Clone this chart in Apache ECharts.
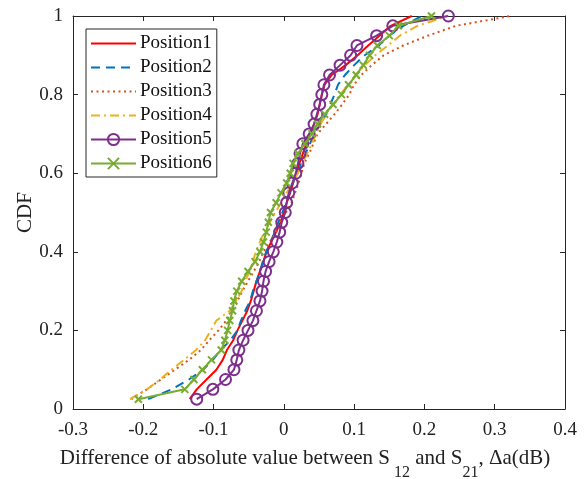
<!DOCTYPE html>
<html>
<head>
<meta charset="utf-8">
<script src="https://cdn.jsdelivr.net/npm/echarts@6/dist/echarts.min.js"></script>
<style>
html,body{margin:0;padding:0;background:#fff;}
#chart{width:587px;height:479px;}
</style>
</head>
<body>
<div id="chart"></div>
<script>
// CDF levels shared by all series
const cdfLevels = [0.025,0.05,0.075,0.1,0.125,0.15,0.175,0.2,0.225,0.25,0.275,0.3,0.325,0.35,0.375,0.4,0.425,0.45,0.475,0.5,0.525,0.55,0.575,0.6,0.625,0.65,0.675,0.7,0.725,0.75,0.775,0.8,0.825,0.85,0.875,0.9,0.925,0.95,0.975,1.0];

const seriesNames = ['Position1','Position2','Position3','Position4','Position5','Position6'];

const position1 = [-0.134,-0.124,-0.110,-0.096,-0.087,-0.081,-0.072,-0.066,-0.059,-0.052,-0.047,-0.043,-0.039,-0.034,-0.029,-0.025,-0.018,-0.011,-0.005,0.000,0.004,0.009,0.013,0.018,0.022,0.027,0.032,0.037,0.043,0.048,0.051,0.054,0.058,0.068,0.088,0.105,0.120,0.136,0.152,0.182];
const position2 = [-0.193,-0.160,-0.135,-0.115,-0.101,-0.090,-0.076,-0.066,-0.061,-0.055,-0.048,-0.044,-0.039,-0.034,-0.030,-0.025,-0.019,-0.013,-0.008,-0.002,0.003,0.008,0.013,0.019,0.025,0.031,0.037,0.044,0.052,0.060,0.066,0.072,0.077,0.087,0.100,0.115,0.135,0.150,0.170,0.196];
const position3 = [-0.217,-0.195,-0.175,-0.155,-0.135,-0.118,-0.106,-0.093,-0.082,-0.073,-0.066,-0.059,-0.051,-0.043,-0.035,-0.029,-0.020,-0.011,-0.005,0.003,0.011,0.016,0.021,0.025,0.029,0.036,0.042,0.048,0.060,0.072,0.083,0.093,0.100,0.110,0.125,0.142,0.170,0.205,0.245,0.322];
const position4 = [-0.219,-0.195,-0.176,-0.160,-0.142,-0.125,-0.112,-0.104,-0.096,-0.077,-0.068,-0.060,-0.055,-0.049,-0.044,-0.040,-0.034,-0.028,-0.020,-0.012,-0.004,0.004,0.012,0.020,0.027,0.033,0.040,0.046,0.052,0.061,0.070,0.080,0.092,0.102,0.115,0.130,0.148,0.165,0.190,0.233];
const position5 = [-0.124,-0.101,-0.083,-0.071,-0.067,-0.064,-0.058,-0.051,-0.044,-0.039,-0.034,-0.031,-0.029,-0.026,-0.021,-0.015,-0.010,-0.006,-0.003,0.002,0.004,0.007,0.012,0.017,0.020,0.023,0.027,0.036,0.043,0.047,0.051,0.054,0.057,0.065,0.080,0.095,0.104,0.132,0.155,0.234];
const position6 = [-0.207,-0.141,-0.128,-0.116,-0.103,-0.089,-0.084,-0.080,-0.077,-0.073,-0.071,-0.067,-0.060,-0.051,-0.041,-0.034,-0.029,-0.025,-0.022,-0.019,-0.011,-0.004,0.004,0.009,0.013,0.020,0.030,0.040,0.048,0.058,0.070,0.082,0.092,0.103,0.113,0.122,0.133,0.150,0.163,0.210];

const xTicks = [-0.3,-0.2,-0.1,0,0.1,0.2,0.3,0.4];
const yTicks = [0,0.2,0.4,0.6,0.8,1];

const allX = [position1,position2,position3,position4,position5,position6];
function pairs(xs){ return xs.map((x,i)=>[x,cdfLevels[i]]); }

const colors = ['#FF0000','#0072BD','#D95319','#EDB120','#7E2F8E','#77AC30'];
const dashes = ['solid',[9,6],[2,3.5],[9,4,2,4],'solid','solid'];

const font = 'Liberation Serif, Times New Roman, serif';
const axisCol = '#262626';
const fs = 19;

const series = allX.map((xs,k)=>{
  const s = {
    name: seriesNames[k],
    type: 'line',
    data: pairs(xs),
    xAxisIndex: 0, yAxisIndex: 0,
    color: colors[k],
    lineStyle: {color: colors[k], width: 2, type: dashes[k]},
    showSymbol: false,
    symbol: 'none',
    animation: false,
    z: 2 + k
  };
  if (k === 4) {
    s.showSymbol = true;
    s.symbol = 'circle';
    s.symbolSize = 11;
    s.itemStyle = {color: 'rgba(0,0,0,0)', borderColor: colors[k], borderWidth: 2};
  }
  if (k === 5) {
    s.showSymbol = true;
    s.symbol = 'path://M0,0L10,10M10,0L0,10';
    s.symbolSize = 7;
    s.itemStyle = {color: 'rgba(0,0,0,0)', borderColor: colors[k], borderWidth: 2};
  }
  return s;
});

const legendData = seriesNames.map((n,k)=> k < 4
  ? {name: n, itemStyle: {color: 'rgba(0,0,0,0)', borderWidth: 0, opacity: 0}}
  : {name: n});

const chart = echarts.init(document.getElementById('chart'), null, {renderer:'canvas'});
chart.setOption({
  animation: false,
  backgroundColor: '#fff',
  grid: {left: 73, right: 22, top: 16, bottom: 70, containLabel: false, outerBoundsMode: 'none'},
  xAxis: [{
    type: 'value', min: -0.3, max: 0.4, interval: 0.1, position: 'bottom',
    axisLine: {show: true, onZero: false, lineStyle: {color: axisCol, width: 1}},
    axisTick: {show: true, inside: true, length: 5, lineStyle: {color: axisCol}},
    splitLine: {show: false},
    axisLabel: {color: '#222', fontFamily: font, fontSize: fs, margin: 12,
      formatter: v => { const t = xTicks.find(q => Math.abs(q - v) < 1e-9); return t === undefined ? '' : String(t); }},
    name: '{n|Difference of absolute value between S}{s| 12}{n| and S}{s|21}{n|, Δa(dB)}',
    nameLocation: 'middle', nameGap: 39, nameMoveOverlap: false,
    nameTextStyle: {
      color: '#222', fontFamily: font, fontSize: 21,
      padding: [0, 28, 0, 0],
      rich: {
        n: {fontFamily: font, fontSize: 21, color: '#222', lineHeight: 22, verticalAlign: 'top'},
        s: {fontFamily: font, fontSize: 16, color: '#222', lineHeight: 22, padding: [17,0,0,0], verticalAlign: 'top'}
      }
    }
  },{
    type: 'value', min: -0.3, max: 0.4, interval: 0.1, position: 'top',
    axisLine: {show: true, onZero: false, lineStyle: {color: axisCol, width: 1}},
    axisTick: {show: true, inside: true, length: 5, lineStyle: {color: axisCol}},
    axisLabel: {show: false}, splitLine: {show: false}
  }],
  yAxis: [{
    type: 'value', min: 0, max: 1, interval: 0.2, position: 'left',
    axisLine: {show: true, onZero: false, lineStyle: {color: axisCol, width: 1}},
    axisTick: {show: true, inside: true, length: 5, lineStyle: {color: axisCol}},
    splitLine: {show: false},
    axisLabel: {color: '#222', fontFamily: font, fontSize: fs, margin: 10,
      formatter: v => { const t = yTicks.find(q => Math.abs(q - v) < 1e-9); return t === undefined ? '' : String(t); }},
    name: 'CDF', nameLocation: 'middle', nameGap: 37, nameRotate: 90, nameMoveOverlap: false,
    nameTextStyle: {color: '#222', fontFamily: font, fontSize: 21, lineHeight: 22}
  },{
    type: 'value', min: 0, max: 1, interval: 0.2, position: 'right',
    axisLine: {show: true, onZero: false, lineStyle: {color: axisCol, width: 1}},
    axisTick: {show: true, inside: true, length: 5, lineStyle: {color: axisCol}},
    axisLabel: {show: false}, splitLine: {show: false}
  }],
  legend: {
    data: legendData,
    orient: 'vertical', left: 86, top: 29,
    backgroundColor: '#fff',
    borderColor: axisCol, borderWidth: 1,
    padding: [5, 5, 4, 4],
    itemWidth: 45, itemHeight: 14, itemGap: 5,
    textStyle: {color: '#111', fontFamily: font, fontSize: fs, lineHeight: 19, padding: [0,0,0,-1]}
  },
  series: series
});
</script>
</body>
</html>
